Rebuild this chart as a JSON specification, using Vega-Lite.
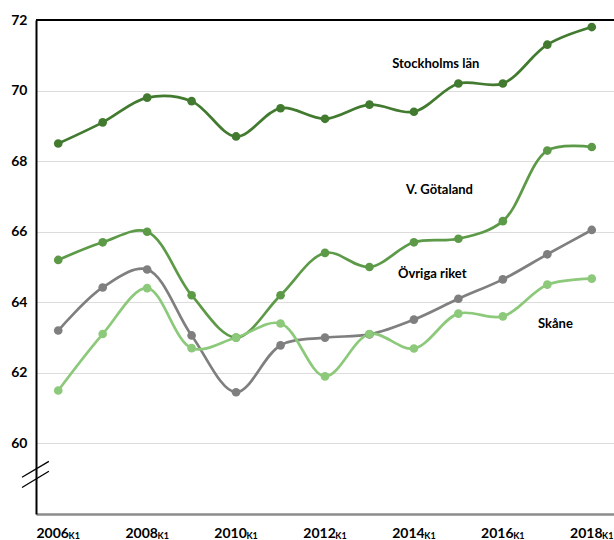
{
  "$schema": "https://vega.github.io/schema/vega-lite/v6.json",
  "width": 578,
  "height": 494,
  "autosize": {"type": "none"},
  "padding": {"left": 36, "top": 20, "right": 0, "bottom": 26},
  "config": {"view": {"stroke": null}, "font": "Lato"},
  "datasets": {
    "series": [
      {"year": 2006, "value": 68.5, "region": "Stockholms län"},
      {"year": 2007, "value": 69.1, "region": "Stockholms län"},
      {"year": 2008, "value": 69.8, "region": "Stockholms län"},
      {"year": 2009, "value": 69.7, "region": "Stockholms län"},
      {"year": 2010, "value": 68.7, "region": "Stockholms län"},
      {"year": 2011, "value": 69.5, "region": "Stockholms län"},
      {"year": 2012, "value": 69.2, "region": "Stockholms län"},
      {"year": 2013, "value": 69.6, "region": "Stockholms län"},
      {"year": 2014, "value": 69.4, "region": "Stockholms län"},
      {"year": 2015, "value": 70.2, "region": "Stockholms län"},
      {"year": 2016, "value": 70.2, "region": "Stockholms län"},
      {"year": 2017, "value": 71.3, "region": "Stockholms län"},
      {"year": 2018, "value": 71.8, "region": "Stockholms län"},
      {"year": 2006, "value": 65.2, "region": "V. Götaland"},
      {"year": 2007, "value": 65.7, "region": "V. Götaland"},
      {"year": 2008, "value": 66.0, "region": "V. Götaland"},
      {"year": 2009, "value": 64.2, "region": "V. Götaland"},
      {"year": 2010, "value": 63.0, "region": "V. Götaland"},
      {"year": 2011, "value": 64.2, "region": "V. Götaland"},
      {"year": 2012, "value": 65.4, "region": "V. Götaland"},
      {"year": 2013, "value": 65.0, "region": "V. Götaland"},
      {"year": 2014, "value": 65.7, "region": "V. Götaland"},
      {"year": 2015, "value": 65.8, "region": "V. Götaland"},
      {"year": 2016, "value": 66.3, "region": "V. Götaland"},
      {"year": 2017, "value": 68.3, "region": "V. Götaland"},
      {"year": 2018, "value": 68.4, "region": "V. Götaland"},
      {"year": 2006, "value": 63.2, "region": "Övriga riket"},
      {"year": 2007, "value": 64.42, "region": "Övriga riket"},
      {"year": 2008, "value": 64.93, "region": "Övriga riket"},
      {"year": 2009, "value": 63.06, "region": "Övriga riket"},
      {"year": 2010, "value": 61.45, "region": "Övriga riket"},
      {"year": 2011, "value": 62.78, "region": "Övriga riket"},
      {"year": 2012, "value": 63.0, "region": "Övriga riket"},
      {"year": 2013, "value": 63.09, "region": "Övriga riket"},
      {"year": 2014, "value": 63.51, "region": "Övriga riket"},
      {"year": 2015, "value": 64.1, "region": "Övriga riket"},
      {"year": 2016, "value": 64.65, "region": "Övriga riket"},
      {"year": 2017, "value": 65.36, "region": "Övriga riket"},
      {"year": 2018, "value": 66.05, "region": "Övriga riket"},
      {"year": 2006, "value": 61.5, "region": "Skåne"},
      {"year": 2007, "value": 63.1, "region": "Skåne"},
      {"year": 2008, "value": 64.4, "region": "Skåne"},
      {"year": 2009, "value": 62.7, "region": "Skåne"},
      {"year": 2010, "value": 63.0, "region": "Skåne"},
      {"year": 2011, "value": 63.4, "region": "Skåne"},
      {"year": 2012, "value": 61.9, "region": "Skåne"},
      {"year": 2013, "value": 63.1, "region": "Skåne"},
      {"year": 2014, "value": 62.69, "region": "Skåne"},
      {"year": 2015, "value": 63.68, "region": "Skåne"},
      {"year": 2016, "value": 63.6, "region": "Skåne"},
      {"year": 2017, "value": 64.5, "region": "Skåne"},
      {"year": 2018, "value": 64.67, "region": "Skåne"}
    ],
    "labels": [
      {"year": 2013.51, "value": 70.75, "text": "Stockholms län"},
      {"year": 2013.82, "value": 67.18, "text": "V. Götaland"},
      {"year": 2013.64, "value": 64.8, "text": "Övriga riket"},
      {"year": 2016.79, "value": 63.39, "text": "Skåne"}
    ],
    "breaks": [
      {"year": 2005.185, "value": 59.04, "year2": 2005.79, "value2": 59.49},
      {"year": 2005.185, "value": 58.75, "year2": 2005.79, "value2": 59.21}
    ],
    "ticks": [
      {"year": 2006, "text": "K1"},
      {"year": 2008, "text": "K1"},
      {"year": 2010, "text": "K1"},
      {"year": 2012, "text": "K1"},
      {"year": 2014, "text": "K1"},
      {"year": 2016, "text": "K1"},
      {"year": 2018, "text": "K1"}
    ]
  },
  "layer": [
    {
      "data": {"name": "series"},
      "mark": {"type": "line", "interpolate": "catmull-rom", "strokeWidth": 2.7},
      "encoding": {
        "x": {
          "field": "year", "type": "quantitative",
          "scale": {"domain": [2005.5, 2018.5], "nice": false, "zero": false},
          "axis": {
            "title": null, "values": [2006, 2008, 2010, 2012, 2014, 2016, 2018], "format": "d",
            "grid": false, "ticks": false, "domainColor": "#8c8c8c", "domainWidth": 2.5,
            "labelFont": "Lato", "labelFontWeight": "bold", "labelFontSize": 14, "labelColor": "#000000",
            "labelPadding": 12, "labelOffset": -6
          }
        },
        "y": {
          "field": "value", "type": "quantitative",
          "scale": {"domain": [58, 72], "nice": false, "zero": false},
          "axis": {
            "title": null, "values": [60, 62, 64, 66, 68, 70, 72],
            "grid": true, "gridColor": "#dcdcdc", "gridWidth": 1, "ticks": false,
            "domainColor": "#000000", "domainWidth": 2,
            "labelFont": "Lato", "labelFontWeight": "bold", "labelFontSize": 14, "labelColor": "#000000",
            "labelPadding": 9
          }
        },
        "color": {
          "field": "region", "type": "nominal", "legend": null,
          "scale": {"domain": ["Stockholms län", "V. Götaland", "Övriga riket", "Skåne"],
                    "range": ["#427b2f", "#5c9a48", "#7f7f7f", "#8dc97b"]}
        }
      }
    },
    {
      "data": {"name": "series"},
      "mark": {"type": "point", "filled": true, "opacity": 1, "size": 75},
      "encoding": {
        "x": {"field": "year", "type": "quantitative"},
        "y": {"field": "value", "type": "quantitative"},
        "color": {"field": "region", "type": "nominal", "legend": null}
      }
    },
    {
      "data": {"name": "labels"},
      "mark": {"type": "text", "align": "left", "baseline": "middle", "fontSize": 13, "fontWeight": "bold", "font": "Lato", "color": "#000000"},
      "encoding": {
        "x": {"field": "year", "type": "quantitative"},
        "y": {"field": "value", "type": "quantitative"},
        "text": {"field": "text"}
      }
    },
    {
      "data": {"name": "breaks"},
      "mark": {"type": "rule", "color": "#000000", "strokeWidth": 1.3},
      "encoding": {
        "x": {"field": "year", "type": "quantitative"},
        "y": {"field": "value", "type": "quantitative"},
        "x2": {"field": "year2"},
        "y2": {"field": "value2"}
      }
    },
    {
      "data": {"values": [{"value": 72}]},
      "mark": {"type": "rule", "color": "#000000", "strokeWidth": 2},
      "encoding": {
        "y": {"field": "value", "type": "quantitative"}
      }
    },
    {
      "data": {"name": "ticks"},
      "mark": {"type": "text", "align": "center", "baseline": "alphabetic", "fontSize": 9, "fontWeight": "bold", "font": "Lato", "color": "#000000", "dx": 16, "dy": 25},
      "encoding": {
        "x": {"field": "year", "type": "quantitative"},
        "y": {"datum": 58, "type": "quantitative"},
        "text": {"field": "text"}
      }
    }
  ]
}
